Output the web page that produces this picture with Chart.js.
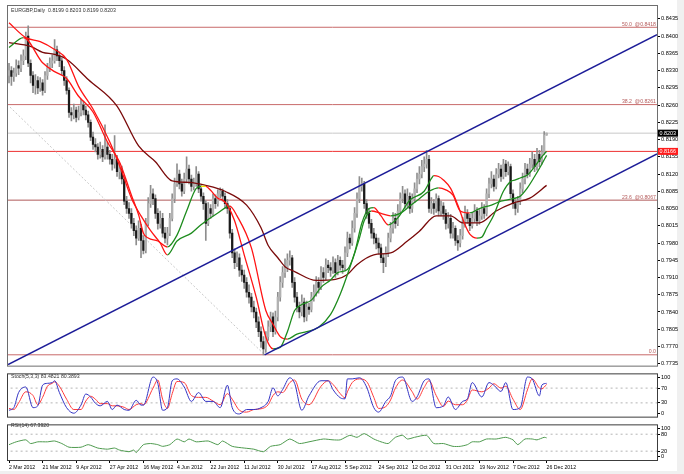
<!DOCTYPE html>
<html>
<head>
<meta charset="utf-8">
<script src="https://cdn.jsdelivr.net/npm/chart.js@4.4.1/dist/chart.umd.min.js"></script>
<style>
html,body{margin:0;padding:0;background:#f0f0f0;overflow:hidden;}
#wrap{position:relative;width:684px;height:474px;}
#bg{position:absolute;left:0;top:0;width:677px;height:471px;background:#ffffff;}
canvas{position:absolute;left:0;}
</style>
</head>
<body>
<div id="wrap">
<div id="bg"></div>
<canvas id="cMain" width="684" height="370" style="top:0px;width:684px;height:370px"></canvas>
<canvas id="cStoch" width="684" height="51" style="top:370px;width:684px;height:51px"></canvas>
<canvas id="cRsi" width="684" height="53" style="top:421px;width:684px;height:53px"></canvas>
</div>
<script>
const FONT = '"Liberation Sans", Arial, sans-serif';
const titleText = 'EURGBP,Daily  0.8199 0.8203 0.8199 0.8203';
const stochTitle = 'Stoch(5,3,3) 83.4821 80.3893';
const rsiTitle = 'RSI(14) 67.3920';

// x axis: bar index ticks and date labels
const dateTickIdx = [0,14,28,42,56,70,84,98,112,126,140,154,168,182,196,210,224];
const dateLabels = ['2 Mar 2012','21 Mar 2012','9 Apr 2012','27 Apr 2012','16 May 2012','4 Jun 2012','22 Jun 2012','11 Jul 2012','30 Jul 2012','17 Aug 2012','5 Sep 2012','24 Sep 2012','12 Oct 2012','31 Oct 2012','19 Nov 2012','7 Dec 2012','26 Dec 2012'];

// price ticks (in pips, 0.xxxx)
const priceTicks = [7735,7770,7805,7840,7875,7910,7945,7980,8015,8050,8085,8120,8155,8190,8225,8260,8295,8330,8365,8400,8435];
const stochTicks = [0,30,70,100];
const rsiTicks = [0,20,80,100];
const stochLevels = [70,30];
const rsiLevels = [80,20];

// OHLC daily bars (pips)
const opens = [
8320,8330,8318,8325,8340,8335,8350,8360,8400,8345,
8320,8300,8310,8295,8305,8290,8320,8335,8345,8350,
8372,8360,8350,8330,8310,8290,8245,8240,8250,8235,
8245,8260,8250,8240,8225,8195,8180,8175,8160,8170,
8155,8175,8160,8150,8140,8150,8125,8130,8110,8065,
8050,8040,8020,8005,7990,8010,7985,7965,8020,8060,
8080,8070,8040,8020,8030,8000,7990,8000,8030,8070,
8100,8120,8100,8085,8110,8130,8110,8095,8100,8120,
8090,8075,8060,8020,8050,8040,8070,8060,8080,8085,
8075,8060,8050,8000,7960,7940,7950,7925,7915,7900,
7880,7870,7850,7840,7820,7800,7780,7765,7790,7810,
7830,7800,7830,7870,7900,7920,7930,7945,7950,7900,
7870,7850,7840,7860,7830,7850,7845,7870,7880,7900,
7890,7920,7910,7935,7930,7925,7940,7920,7945,7935,
7930,7960,7990,7980,8010,8040,8070,8095,8100,8060,
8040,8020,8000,7990,7980,7970,7950,7940,7960,7990,
8010,8030,8020,8045,8070,8080,8060,8075,8050,8070,
8090,8110,8120,8135,8140,8150,8050,8060,8050,8070,
8045,8055,8040,8020,8030,8000,8010,7985,7980,7995,
8020,8040,8030,8015,8030,8045,8025,8035,8050,8040,
8080,8100,8110,8095,8120,8130,8115,8140,8125,8135,
8080,8060,8050,8065,8090,8110,8130,8120,8140,8150,
8135,8160,8145,8165,8199];
const highs = [
8345,8338,8335,8352,8350,8362,8372,8408,8421,8352,
8328,8322,8318,8316,8312,8328,8345,8356,8362,8393,
8380,8368,8356,8338,8318,8295,8255,8262,8256,8258,
8272,8268,8258,8248,8230,8205,8192,8182,8185,8178,
8220,8185,8168,8160,8198,8158,8142,8136,8115,8075,
8062,8050,8030,8015,8025,8018,7995,8030,8072,8097,
8090,8078,8050,8045,8040,8012,8012,8040,8080,8112,
8141,8128,8110,8122,8155,8138,8118,8112,8135,8125,
8098,8082,8066,8062,8058,8080,8078,8088,8092,8090,
8082,8068,8055,8008,7968,7962,7958,7935,7925,7910,
7895,7878,7862,7848,7830,7810,7790,7800,7822,7840,
7838,7842,7880,7912,7932,7948,7958,7964,7955,7910,
7880,7860,7875,7868,7862,7858,7880,7895,7912,7910,
7932,7930,7948,7945,7940,7952,7948,7955,7952,7945,
7972,8002,7998,8025,8052,8082,8115,8112,8105,8068,
8050,8028,8010,7998,7990,7978,7958,7972,8000,8022,
8042,8040,8058,8082,8095,8088,8090,8082,8080,8102,
8122,8135,8148,8155,8168,8158,8072,8068,8080,8076,
8065,8062,8048,8042,8038,8022,8015,7995,8008,8032,
8055,8048,8038,8042,8058,8052,8048,8062,8058,8090,
8112,8125,8118,8131,8142,8138,8150,8148,8145,8140,
8088,8068,8075,8102,8122,8142,8140,8152,8165,8160,
8172,8168,8178,8206,8203];
const lows = [
8305,8300,8308,8318,8322,8328,8342,8352,8338,8305,
8285,8282,8283,8288,8280,8285,8312,8328,8336,8345,
8350,8338,8322,8300,8282,8235,8228,8232,8226,8230,
8238,8240,8230,8215,8188,8170,8165,8150,8152,8145,
8150,8150,8140,8128,8132,8115,8110,8100,8058,8040,
8030,8010,7995,7976,7985,7950,7958,7960,8015,8052,
8058,8030,8008,8010,7992,7980,7976,7995,8025,8062,
8095,8090,8075,8080,8102,8100,8085,8088,8095,8082,
8065,8048,7985,8015,8030,8035,8050,8055,8072,8065,
8050,8040,7990,7950,7928,7932,7912,7902,7888,7870,
7858,7840,7828,7808,7790,7768,7753,7758,7782,7800,
7790,7795,7822,7862,7890,7910,7922,7935,7890,7860,
7840,7828,7832,7820,7822,7835,7840,7862,7872,7878,
7885,7900,7905,7920,7912,7918,7910,7915,7925,7918,
7925,7952,7968,7975,8002,8032,8062,8085,8050,8030,
8010,7990,7978,7968,7958,7940,7920,7932,7952,7982,
8000,8010,8015,8040,8062,8050,8052,8040,8042,8062,
8082,8100,8112,8125,8132,8042,8040,8038,8042,8035,
8035,8028,8008,8010,7990,7990,7975,7965,7972,7988,
8012,8020,8005,8010,8022,8015,8018,8028,8030,8035,
8072,8092,8085,8090,8112,8105,8110,8115,8118,8072,
8050,8037,8042,8058,8082,8100,8112,8115,8132,8125,
8128,8135,8140,8160,8199];
const closes = [
8330,8318,8325,8340,8335,8350,8360,8400,8345,8320,
8300,8310,8295,8305,8290,8320,8335,8345,8350,8372,
8360,8350,8330,8310,8290,8245,8240,8250,8235,8245,
8260,8250,8240,8225,8195,8180,8175,8160,8170,8155,
8175,8160,8150,8140,8150,8125,8130,8110,8065,8050,
8040,8020,8005,7990,8010,7985,7965,8020,8060,8080,
8070,8040,8020,8030,8000,7990,8000,8030,8070,8100,
8120,8100,8085,8110,8130,8110,8095,8100,8120,8090,
8075,8060,8020,8050,8040,8070,8060,8080,8085,8075,
8060,8050,8000,7960,7940,7950,7925,7915,7900,7880,
7870,7850,7840,7820,7800,7780,7765,7790,7810,7830,
7800,7830,7870,7900,7920,7930,7945,7950,7900,7870,
7850,7840,7860,7830,7850,7845,7870,7880,7900,7890,
7920,7910,7935,7930,7925,7940,7920,7945,7935,7930,
7960,7990,7980,8010,8040,8070,8095,8100,8060,8040,
8020,8000,7990,7980,7970,7950,7940,7960,7990,8010,
8030,8020,8045,8070,8080,8060,8075,8050,8070,8090,
8110,8120,8135,8140,8150,8050,8060,8050,8070,8045,
8055,8040,8020,8030,8000,8010,7985,7980,7995,8020,
8040,8030,8015,8030,8045,8025,8035,8050,8040,8080,
8100,8110,8095,8120,8130,8115,8140,8125,8135,8080,
8060,8050,8065,8090,8110,8130,8120,8140,8150,8135,
8160,8145,8165,8199,8203];

// moving averages (bar index, pips)
const maSlowX = [0,9,14,19,24,33,45,54,61,68,75,82,90,99,105,108,112,115,119,128,136,141,145,152,159,166,171,178,184,189,196,203,210,217,224];
const maSlowY = [8387,8379,8367,8363,8353,8312,8258,8177,8145,8106,8103,8097,8085,8057,8011,7975,7950,7932,7922,7904,7906,7916,7936,7956,7960,7984,8004,8035,8035,8021,8021,8045,8061,8071,8097];
const maFastX = [0,6,14,19,24,29,35,41,46,51,54,56,58,62,66,70,74,78,80,82,84,87,89,91,94,98,103,107,110,113,116,119,122,126,130,134,137,141,144,147,150,152,155,158,162,167,173,176,177,179,181,184,187,190,192,195,197,199,202,206,209,211,213,216,219,222,224];
const maFastY = [8377,8397,8346,8328,8314,8278,8246,8185,8145,8077,8037,8000,7990,7984,7972,7996,8045,8091,8095,8095,8087,8071,8067,8057,8025,7956,7870,7789,7765,7768,7800,7843,7855,7864,7890,7905,7920,7926,7960,8020,8050,8052,8035,8017,8031,8067,8085,8111,8117,8115,8108,8091,8057,8017,7998,7990,7992,8010,8037,8085,8105,8108,8112,8118,8135,8155,8166];
const maMidX = [0,7,13,19,24,29,35,42,47,51,55,59,63,66,70,76,80,87,92,95,101,107,110,113,116,120,124,129,134,138,142,146,148,151,155,159,163,167,171,175,179,182,185,188,192,196,201,205,210,213,216,219,222,224];
const maMidY = [8427,8397,8389,8373,8353,8298,8252,8185,8125,8071,8035,8005,7980,7956,7984,8000,8017,8041,8055,8035,7970,7843,7815,7790,7785,7795,7800,7809,7835,7876,7930,7990,8025,8045,8040,8035,8040,8055,8070,8085,8092,8088,8077,8045,8041,8050,8057,8065,8070,8075,8092,8115,8140,8158];

// drawn objects (bar index, pips)
const fibLevels = [8418,8261,8067,7753];
const fibNames = ['50.0','38.2','23.6','0.0'];
const supportLevel = 8166;
const lastPrice = 8203;
const channelUpperX = [-0.4,270], channelUpperY = [7733,8403];
const channelLowerX = [106.5,270], channelLowerY = [7753,8161];
const fibTrendX = [0.4,106.5], fibTrendY = [8256,7753];

// stochastic (bar index, %)
const stochX = [0,2,4,7,10,12,14,16,18,19,21,24,27,30,32,34,36,38,41,43,45,48,50,53,55,56,60,62,64,66,68,70,73,76,79,82,85,88,91,93,96,99,102,105,108,110,112,114,117,119,122,125,130,133,135,138,140,141,143,146,149,152,154,157,159,161,164,168,170,173,175,178,181,183,186,189,191,193,197,200,202,205,207,210,213,216,218,221,222,224];
const stochK = [10,17,58,73,17,22,78,83,85,90,58,17,2,24,54,46,29,22,34,12,24,12,10,37,24,24,100,83,10,17,90,95,73,34,58,34,34,17,78,17,0,12,12,17,34,71,49,66,98,83,10,49,90,90,66,44,41,95,95,98,73,17,5,34,49,90,100,34,46,90,95,17,22,46,12,34,41,85,46,85,78,61,85,12,17,100,95,49,78,83];
const stochD = [15,12,30,60,50,25,45,75,83,87,75,40,12,12,35,48,40,28,28,22,22,18,12,25,28,25,70,92,40,15,55,88,85,50,45,45,35,25,55,40,10,5,12,14,25,50,60,58,85,92,40,25,75,90,80,55,44,60,85,95,88,45,15,20,38,70,92,60,40,72,90,50,20,35,25,25,38,65,60,70,82,70,75,40,12,65,95,70,68,80];

// RSI(14) (bar index, value)
const rsiX = [0,3,7,9,12,16,19,22,25,30,33,37,41,44,46,50,52,53,56,59,62,64,67,70,73,75,78,83,87,89,93,98,102,106,109,113,117,121,125,131,135,138,142,145,148,152,155,158,161,164,166,169,174,177,181,185,188,191,193,196,199,203,207,210,212,215,218,220,223,224];
const rsiV = [43,53,60,47,53,53,56,47,34,34,43,31,27,31,24,18,24,15,43,47,43,37,43,63,53,63,53,56,43,56,37,31,27,18,37,43,63,47,53,63,60,60,76,69,82,63,53,47,69,76,63,69,76,47,47,37,37,43,53,53,63,63,69,60,43,63,63,60,69,67];

// ---------- build ----------
const P = v => v / 10000;
const X_MIN = -0.42, X_MAX = 270;
function pts(xs, ys, f) { return xs.map((x, k) => ({ x: x, y: f ? f(ys[k]) : ys[k] })); }
function slopeColor(c) {
  const a = c.p0.parsed, b = c.p1.parsed;
  const s = (b.y - a.y) * 10000 / (b.x - a.x);
  if (s > 0.8) return '#1e8c1e';
  if (s < -0.8) return '#ff1414';
  return '#f2e600';
}
function hLine(v, color, order, dash) {
  return { type: 'line', data: [{ x: X_MIN - 1, y: v }, { x: X_MAX + 1, y: v }], borderColor: color, borderWidth: 1, borderDash: dash || [], pointRadius: 0, order: order };
}
function rightAxis(min, max, ticks, fmt) {
  return {
    position: 'right', min: min, max: max, beginAtZero: false,
    afterFit(s) { s.width = 27; },
    afterBuildTicks(s) { s.ticks = ticks.map(v => ({ value: v })); },
    ticks: { autoSkip: false, font: { family: FONT, size: 5.6 }, color: '#000', padding: 1, callback: fmt },
    grid: { drawOnChartArea: false, tickLength: 3, color: '#000' },
    border: { color: '#000' }
  };
}
const hiddenX = { type: 'linear', min: X_MIN, max: X_MAX, display: false, offset: false };
const base = { responsive: false, animation: false, devicePixelRatio: 1, events: [] };
const noPlug = { legend: { display: false }, tooltip: { enabled: false } };

function frame(ctx, a, col) {
  ctx.strokeStyle = col; ctx.lineWidth = 1;
  ctx.strokeRect(a.left - 0.5, a.top - 0.5, a.right - a.left + 1, a.bottom - a.top + 1);
}

const mainDecor = {
  id: 'mainDecor',
  afterDraw(chart) {
    const ctx = chart.ctx, a = chart.chartArea, y = chart.scales.y;
    ctx.save();
    frame(ctx, a, '#6e6e6e');
    ctx.font = '5.2px ' + FONT; ctx.fillStyle = '#333'; ctx.textAlign = 'left'; ctx.textBaseline = 'middle';
    ctx.fillText(titleText, 11, 10.5);
    ctx.fillStyle = '#b45a5a'; ctx.textAlign = 'right'; ctx.textBaseline = 'alphabetic';
    fibLevels.forEach((v, k) => {
      const py = y.getPixelForValue(P(v));
      const t = fibNames[k] === '0.0' ? '0.0' : fibNames[k] + '  @' + P(v).toFixed(4);
      ctx.fillText(t, a.right - 1, py - 1.5);
    });
    ctx.font = '5.4px ' + FONT; ctx.textAlign = 'left'; ctx.textBaseline = 'middle';
    [[lastPrice, '#000000'], [supportLevel, '#ff1c1c']].forEach(([v, col]) => {
      const py = y.getPixelForValue(P(v));
      ctx.fillStyle = col; ctx.fillRect(a.right + 1, py - 3.5, 20, 7);
      ctx.fillStyle = '#fff'; ctx.fillText(P(v).toFixed(4), a.right + 2.5, py + 0.3);
    });
    ctx.restore();
  }
};

const wickData = highs.map((h, i) => ({ x: i, y: [P(lows[i]), P(h)] }));
const bodyData = opens.map((o, i) => ({ x: i, y: [P(Math.min(o, closes[i])), P(Math.max(o, closes[i]))] }));
const bodyColors = opens.map((o, i) => closes[i] >= o ? '#b2b2b2' : '#1a1a1a');

new Chart(document.getElementById('cMain'), {
  type: 'bar',
  data: {
    datasets: [
      hLine(P(lastPrice), '#c8c8c8', 30),
      hLine(P(fibLevels[0]), '#c86a6a', 29),
      hLine(P(fibLevels[1]), '#c86a6a', 29),
      hLine(P(fibLevels[2]), '#b05a5a', 29),
      hLine(P(fibLevels[3]), '#c86a6a', 29),
      hLine(P(supportLevel), '#ee3030', 28),
      { type: 'line', data: pts(fibTrendX, fibTrendY, P), borderColor: '#c8c8c8', borderWidth: 1, borderDash: [2, 2], pointRadius: 0, order: 27 },
      { type: 'bar', data: wickData, backgroundColor: '#8e8e8e', barThickness: 1, grouped: false, order: 20 },
      { type: 'bar', data: bodyData, backgroundColor: bodyColors, barThickness: 1.6, minBarLength: 1, grouped: false, order: 19 },
      { type: 'line', data: pts(maSlowX, maSlowY, P), borderColor: '#7a0a0a', borderWidth: 1.3, pointRadius: 0, cubicInterpolationMode: 'monotone', order: 6 },
      { type: 'line', data: pts(maMidX, maMidY, P), borderColor: '#ff1414', borderWidth: 1.3, pointRadius: 0, cubicInterpolationMode: 'monotone', segment: { borderColor: slopeColor }, order: 5 },
      { type: 'line', data: pts(maFastX, maFastY, P), borderColor: '#ff1414', borderWidth: 1.3, pointRadius: 0, cubicInterpolationMode: 'monotone', segment: { borderColor: slopeColor }, order: 4 },
      { type: 'line', data: pts(channelUpperX, channelUpperY, P), borderColor: '#1c1c98', borderWidth: 1.5, pointRadius: 0, order: 2 },
      { type: 'line', data: pts(channelLowerX, channelLowerY, P), borderColor: '#1c1c98', borderWidth: 1.5, pointRadius: 0, order: 2 }
    ]
  },
  options: Object.assign({}, base, {
    layout: { padding: { left: 8, top: 6, right: 0, bottom: 1 } },
    plugins: noPlug,
    scales: {
      x: hiddenX,
      y: rightAxis(0.77310, 0.84612, priceTicks.map(P), v => Number(v).toFixed(4))
    }
  }),
  plugins: [mainDecor]
});

function subDecor(title, ty) {
  return {
    id: 'subDecor',
    afterDraw(chart) {
      const ctx = chart.ctx, a = chart.chartArea;
      ctx.save();
      frame(ctx, a, '#3c3c3c');
      ctx.font = '5.2px ' + FONT; ctx.fillStyle = '#333'; ctx.textAlign = 'left'; ctx.textBaseline = 'middle';
      ctx.fillText(title, 11, ty);
      ctx.restore();
    }
  };
}
function levelLine(v) {
  return { type: 'line', data: [{ x: X_MIN - 1, y: v }, { x: X_MAX + 1, y: v }], borderColor: '#b4b4b4', borderWidth: 1, borderDash: [2, 3], pointRadius: 0, order: 10 };
}

new Chart(document.getElementById('cStoch'), {
  type: 'line',
  data: {
    datasets: [
      levelLine(stochLevels[0]), levelLine(stochLevels[1]),
      { data: pts(stochX, stochD), borderColor: '#ff3a3a', borderWidth: 1, pointRadius: 0, cubicInterpolationMode: 'monotone', order: 3 },
      { data: pts(stochX, stochK), borderColor: '#3434c4', borderWidth: 1, pointRadius: 0, cubicInterpolationMode: 'monotone', order: 2 }
    ]
  },
  options: Object.assign({}, base, {
    layout: { padding: { left: 8, top: 3, right: 0, bottom: 1 } },
    plugins: noPlug,
    scales: { x: hiddenX, y: rightAxis(-7.3, 107.3, stochTicks, v => String(v)) }
  }),
  plugins: [subDecor(stochTitle, 7)]
});

new Chart(document.getElementById('cRsi'), {
  type: 'line',
  data: {
    datasets: [
      levelLine(rsiLevels[0]), levelLine(rsiLevels[1]),
      { data: pts(rsiX, rsiV), borderColor: '#4e9a4e', borderWidth: 1, pointRadius: 0, tension: 0.2, order: 2 }
    ]
  },
  options: Object.assign({}, base, {
    layout: { padding: { left: 8, top: 1, right: 0, bottom: 0 } },
    plugins: noPlug,
    scales: {
      x: {
        type: 'linear', min: X_MIN, max: X_MAX, offset: false, position: 'bottom',
        afterFit(s) { s.height = 14; },
        afterBuildTicks(s) { s.ticks = dateTickIdx.map(v => ({ value: v })); },
        ticks: { autoSkip: false, maxRotation: 0, minRotation: 0, align: 'start', padding: 1, color: '#000', font: { family: FONT, size: 5.2 },
          callback: v => dateLabels[dateTickIdx.indexOf(v)] },
        grid: { drawOnChartArea: false, tickLength: 3, color: '#000' },
        border: { color: '#000' }
      },
      y: rightAxis(-11.3, 111.3, rsiTicks, v => String(v))
    }
  }),
  plugins: [subDecor(rsiTitle, 5)]
});
</script>
</body>
</html>
